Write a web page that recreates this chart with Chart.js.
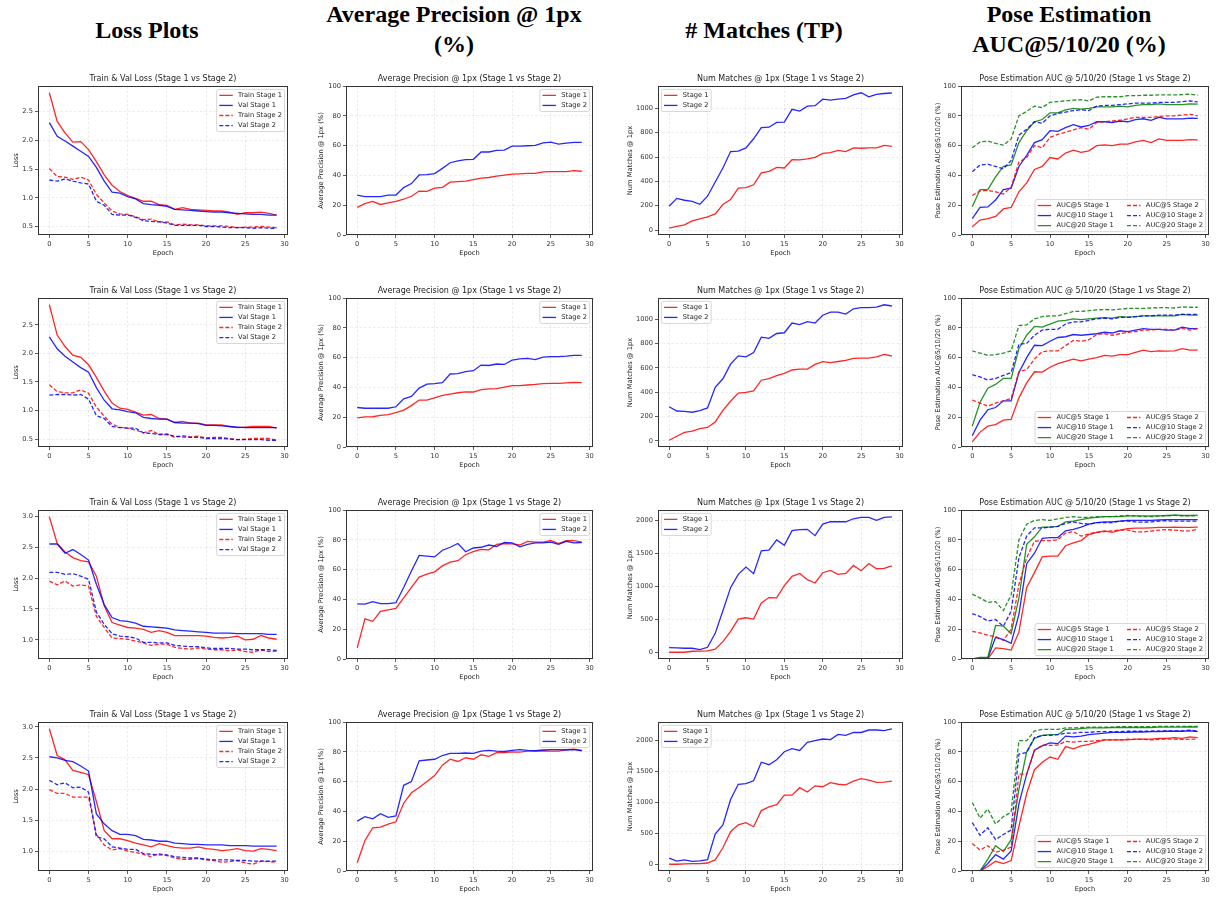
<!DOCTYPE html>
<html>
<head>
<meta charset="utf-8">
<title>Stage 1 vs Stage 2</title>
<script src="https://cdn.jsdelivr.net/npm/chart.js@4.4.0/dist/chart.umd.min.js"></script>
<style>
html, body { margin: 0; padding: 0; background: #fff; width: 1217px; height: 897px; overflow: hidden; position: relative; }
.hdr { position: absolute; font-family: 'Liberation Serif', 'Times New Roman', serif; font-weight: bold; font-size: 24px; line-height: 30px; text-align: center; color: #000; white-space: nowrap; transform: translateX(-50%); }
canvas { position: absolute; }
</style>
</head>
<body>
<div class="hdr" style="left:147px;top:15px">Loss Plots</div>
<div class="hdr" style="left:454px;top:-1px">Average Precision @ 1px<br>(%)</div>
<div class="hdr" style="left:764px;top:15px"># Matches (TP)</div>
<div class="hdr" style="left:1069px;top:-1px">Pose Estimation<br>AUC@5/10/20 (%)</div>
<script>
const epochs = [0,1,2,3,4,5,6,7,8,9,10,11,12,13,14,15,16,17,18,19,20,21,22,23,24,25,26,27,28,29];

// tick values
const xTicks = [0,5,10,15,20,25,30];
const lossTicksA = [0.5,1.0,1.5,2.0,2.5];
const lossTicksB = [1.0,1.5,2.0,2.5,3.0];
const pctTicks = [0,20,40,60,80,100];
const matchTicksA = [0,200,400,600,800,1000];
const matchTicksB = [0,500,1000,1500,2000];

// ---- row 1 ----
const r1_trainS1 = [2.83,2.33,2.13,1.97,1.98,1.84,1.63,1.40,1.22,1.11,1.04,0.99,0.94,0.94,0.88,0.87,0.80,0.83,0.80,0.79,0.78,0.77,0.77,0.75,0.71,0.74,0.74,0.75,0.73,0.70];
const r1_valS1   = [2.31,2.07,1.99,1.90,1.81,1.72,1.53,1.29,1.10,1.08,1.02,0.98,0.90,0.88,0.87,0.85,0.80,0.79,0.78,0.77,0.76,0.75,0.75,0.74,0.73,0.72,0.71,0.71,0.70,0.70];
const r1_trainS2 = [1.51,1.37,1.36,1.32,1.36,1.31,1.06,0.91,0.77,0.72,0.71,0.67,0.62,0.63,0.58,0.58,0.53,0.54,0.53,0.53,0.51,0.51,0.51,0.50,0.48,0.49,0.49,0.50,0.49,0.48];
const r1_valS2   = [1.31,1.29,1.33,1.29,1.26,1.24,0.94,0.87,0.71,0.70,0.70,0.66,0.60,0.59,0.58,0.56,0.52,0.52,0.52,0.52,0.50,0.50,0.49,0.48,0.48,0.48,0.47,0.48,0.47,0.47];
const r1_apS1 = [18.5,21,22.5,20.5,21.5,22.5,24,26,29.5,29.3,31.5,32,35.5,35.8,36.2,37.2,38.2,38.6,39.5,40.2,40.8,41,41.3,41.3,42.3,42.5,42.5,42.5,43.2,42.8];
const r1_apS2 = [26.8,25.8,25.8,25.8,26.7,26.8,31.8,34.5,40.3,40.5,41.2,44.7,48.5,49.8,50.6,50.8,55.7,55.7,56.8,57,59.6,59.7,59.9,60.1,61.8,62.3,61,61.7,62.2,62.2];
const r1_mS1 = [15,30,42,75,92,108,133,210,250,345,348,372,470,483,515,510,578,576,585,598,630,637,655,645,675,672,675,675,695,687];
const r1_mS2 = [195,260,245,236,212,278,395,510,645,648,675,750,842,845,885,887,992,978,1018,1022,1075,1068,1075,1082,1110,1128,1095,1115,1122,1126];
const r1_auc5S1  = [5.5,10,11,12.5,17.5,18.5,29,35,44,46,52,51,55,57,55.5,56.5,60,60.5,60,61,61,62.5,63.5,62,64.5,63.5,63.5,63.5,64,63.8];
const r1_auc10S1 = [11,18.5,18.8,23.5,30.5,31.5,46,53.5,62,64,70,69.5,72,74,72.5,73.5,76,76,75.5,76.5,76,77.5,78,77,79,78,78,78,78.5,78.3];
const r1_auc20S1 = [19,30.5,30.5,39,46,47,62,70,76,77.5,82,82,84,85,84.5,85,86,86,86,86.5,86,87,87.5,87.5,88,87.5,87.5,87.5,88,87.8];
const r1_auc5S2  = [26.5,29.5,30,29,27.5,32,49,52,60,58.5,65.5,67.5,69,70.5,72,71,75.5,76,76.5,77,78,79,79,79,79.5,80,80,80.5,81,80];
const r1_auc10S2 = [42.5,47,47.5,46,44.5,50,67,71,76,75,80,81.5,82.5,83.5,84,83.5,86.5,87,87,87.5,88,88.5,88.5,88.5,89,89,89,89.5,90,89.3];
const r1_auc20S2 = [58.5,62.5,63,61.5,60.3,64.5,80,83,86.5,85.5,89,89.5,90,90.5,90.8,90,92.5,92.8,92.8,92.8,93.5,93.5,93.8,93.8,94,94,94,94.2,94.5,93.8];

// ---- row 2 ----
const r2_trainS1 = [2.85,2.32,2.12,1.97,1.93,1.80,1.58,1.34,1.13,1.04,1.02,0.97,0.92,0.93,0.86,0.85,0.79,0.81,0.78,0.78,0.75,0.75,0.75,0.72,0.70,0.71,0.72,0.72,0.72,0.69];
const r2_valS1   = [2.29,2.08,1.95,1.85,1.75,1.67,1.40,1.18,1.03,1.01,0.98,0.96,0.88,0.86,0.85,0.85,0.79,0.78,0.78,0.77,0.74,0.74,0.73,0.72,0.71,0.70,0.70,0.70,0.70,0.70];
const r2_trainS2 = [1.45,1.33,1.31,1.31,1.36,1.30,1.06,0.90,0.76,0.71,0.69,0.66,0.61,0.65,0.58,0.59,0.53,0.56,0.54,0.55,0.52,0.53,0.53,0.51,0.49,0.50,0.51,0.51,0.51,0.48];
const r2_valS2   = [1.27,1.28,1.28,1.27,1.28,1.20,0.91,0.86,0.72,0.70,0.69,0.69,0.61,0.60,0.58,0.58,0.55,0.54,0.53,0.53,0.51,0.51,0.51,0.50,0.49,0.49,0.49,0.49,0.48,0.48];
const r2_apS1 = [19.5,20.2,20.3,21.2,21.7,23,24.8,27.8,31.5,31.5,33,34.6,35.5,36.4,37,36.9,38.5,39,39.2,40.2,41.2,41.2,41.6,42,42.6,42.7,42.7,43,43.3,43.2];
const r2_apS2 = [26.5,26,26,26,26,27,32.3,34,39.5,42.2,42.5,43.2,49,49.3,50.6,51.2,55,54.7,55.7,55.4,58.3,59.2,59.5,58.6,60.3,60.7,60.7,61,61.5,61.5];
const r2_mS1 = [5,38,70,80,100,110,155,250,325,392,398,410,498,512,535,555,582,590,590,628,650,642,652,662,678,680,680,690,710,697];
const r2_mS2 = [280,245,242,235,248,270,440,510,630,698,690,725,852,842,882,888,968,955,980,968,1032,1058,1058,1042,1085,1095,1095,1098,1118,1108];
const r2_auc5S1  = [3.5,10,14,15,18,18.5,33,43,50.5,50.3,53.5,56,57.5,59,57.8,59,60,61.5,61,62,62,63.5,65,64,64.5,64.3,64.5,66,65,65];
const r2_auc10S1 = [7.5,18,25,26.5,31,31,50,60,68.3,68,71,73.5,74,75.5,75,75.5,76,77,76.5,78,77.5,78.5,79.5,79,79,78.5,78.5,80.5,79.5,79.5];
const r2_auc20S1 = [14,30,39.5,42,46,46,66,75,81,80.5,82.5,84.5,85,86,85.5,86,86.5,86.8,86.5,87.5,87.2,87.5,88,88,88,88,88,89,88.5,88.5];
const r2_auc5S2  = [31.5,29.5,27.5,29.5,31,32.5,50.5,52,59,64,64.5,64.5,68,71.5,71,72,75.5,76,75,76,77,77.5,78.5,78.5,79,79,78.5,79.5,78.5,79.5];
const r2_auc10S2 = [48.5,47,45,46,48,50,69,69.5,75,78.5,79,79,82.5,84,84,85,86,86.5,86,87,87,87.5,88,88,88.5,88.5,88.5,89,89,89];
const r2_auc20S2 = [64.5,63,61.5,62,63,64.5,81.5,82,86,87.5,88,88,89.5,91,91,91.5,92,92.3,92,92.5,93,93,93,93.3,93.5,93.5,93.3,94,93.8,93.8];

// ---- row 3 ----
const r3_trainS1 = [2.99,2.56,2.42,2.33,2.28,2.26,2.03,1.55,1.28,1.24,1.20,1.19,1.17,1.12,1.15,1.12,1.07,1.07,1.07,1.07,1.06,1.04,1.03,1.04,1.06,1.00,1.01,1.07,1.03,1.01];
const r3_valS1   = [2.55,2.55,2.40,2.46,2.38,2.29,1.90,1.57,1.36,1.31,1.30,1.27,1.22,1.21,1.20,1.19,1.16,1.15,1.14,1.13,1.12,1.11,1.11,1.11,1.10,1.10,1.10,1.10,1.09,1.09];
const r3_trainS2 = [1.95,1.89,1.95,1.87,1.89,1.87,1.38,1.20,1.03,1.02,1.01,0.98,0.95,0.91,0.93,0.93,0.88,0.86,0.85,0.87,0.85,0.84,0.84,0.82,0.84,0.81,0.80,0.84,0.81,0.82];
const r3_valS2   = [2.09,2.09,2.06,2.07,2.03,1.98,1.45,1.25,1.10,1.06,1.05,1.03,0.96,0.96,0.95,0.95,0.91,0.90,0.89,0.89,0.87,0.86,0.86,0.86,0.85,0.85,0.84,0.84,0.84,0.83];
const r3_apS1 = [7.5,27,25.3,32,33,34,41,48,55,57,58.5,62.5,65,66,70,72,73.5,73.3,77,77.5,77.2,76.5,79,78.5,78.5,79.5,77.5,79.5,79.5,78.5];
const r3_apS2 = [37,36.8,38.5,37.2,37.2,37.8,48,59,69.5,69,68.5,73,75,77.5,72,74.5,75,76.5,75.5,78.3,78,75.3,77,78,78,78.5,77,79,78,78.2];
const r3_mS1 = [5,5,5,20,22,25,50,165,320,505,525,505,750,830,825,1010,1150,1195,1100,1050,1205,1240,1180,1195,1315,1235,1345,1265,1270,1310];
const r3_mS2 = [75,70,65,65,45,80,290,630,980,1180,1290,1190,1535,1545,1700,1620,1840,1855,1860,1765,1940,1975,1975,1975,2020,2040,2040,1995,2040,2050];
const r3_auc5S1  = [0,0,0,7.5,7,6,18,48,58,68.5,69,69,76,78,79.5,83.5,85,86,85,86.5,87.5,87.8,87.8,88,88.3,88.3,88.5,88.3,88.3,88.5];
const r3_auc10S1 = [0,0.5,0.5,14.5,13,10.5,30,64,71,81,81.5,81.5,86,87,88.5,90.5,91.5,92,92,92.5,93,93,93,93,93.3,93.5,93.5,93.5,93.5,93.5];
const r3_auc20S1 = [0,1,1,22.5,22,17,41,77,82,88.5,88.5,89,92,92.5,93.5,94.5,95,95.5,95.5,95.5,96,96,96,96,96,96.3,96.5,96.3,96.3,96.5];
const r3_auc5S2  = [18.5,17.5,16,15,12.5,20,50,68,79,79.5,79.5,80,84.5,85.5,82.5,84,85,85.5,86,86.5,86.5,85.3,85.3,85.8,86.5,86.8,86.5,86,86,87];
const r3_auc10S2 = [30.5,28.5,25.5,26.5,22,32,68,82.5,88,88,88.5,89,91,92,91,90.5,91.5,91.5,91.5,92.5,92.5,92,91.8,92,92.5,92.8,92.5,92.5,92.5,92.5];
const r3_auc20S2 = [43.5,41,38,38.5,32.5,43,80,90.5,93,93.5,93,94,95,95.5,95,95,95.5,95.5,95.5,96,96.3,96,95.5,95.5,96,96,96.5,96,96,96];

// ---- row 4 ----
const r4_trainS1 = [2.97,2.54,2.47,2.30,2.27,2.23,1.80,1.33,1.20,1.20,1.17,1.13,1.10,1.07,1.12,1.09,1.06,1.05,1.05,1.07,1.04,1.03,1.01,1.02,1.04,1.01,1.00,1.04,1.03,1.01];
const r4_valS1   = [2.52,2.50,2.46,2.44,2.37,2.29,1.60,1.44,1.33,1.27,1.27,1.25,1.19,1.18,1.16,1.16,1.13,1.12,1.11,1.11,1.10,1.10,1.10,1.09,1.09,1.09,1.08,1.08,1.08,1.08];
const r4_trainS2 = [1.99,1.93,1.93,1.87,1.87,1.87,1.27,1.10,1.02,1.04,1.00,0.98,0.95,0.91,0.96,0.93,0.89,0.87,0.87,0.88,0.86,0.85,0.82,0.83,0.85,0.81,0.79,0.84,0.83,0.82];
const r4_valS2   = [2.14,2.07,2.10,2.02,2.03,1.95,1.23,1.20,1.07,1.05,1.03,1.03,0.96,0.95,0.94,0.94,0.91,0.90,0.89,0.89,0.87,0.86,0.86,0.86,0.85,0.85,0.84,0.84,0.84,0.84];
const r4_apS1 = [5.5,20.5,29,29.5,31.5,33,45.5,52.5,56,60,64,71,75,73.5,76,75,78,77,79.5,79.5,80,79.8,80.5,80.5,80.7,80.5,80.5,81.5,81.8,81];
const r4_apS2 = [33.5,36.5,35,38.5,36,37,57.5,60,74,74.5,75,77.5,79,79,79.2,79,80.5,81,80.5,80.2,81,81.5,81,80.7,81.2,81.4,81.4,81.2,81.5,80.7];
const r4_mS1 = [5,5,10,15,15,25,75,270,530,640,675,610,870,930,965,1120,1120,1240,1170,1270,1255,1320,1295,1285,1345,1385,1360,1325,1330,1345];
const r4_mS2 = [105,55,75,50,60,80,490,640,1050,1295,1305,1350,1650,1610,1690,1820,1870,1840,1970,2000,2025,2015,2100,2085,2130,2130,2170,2170,2160,2190];
const r4_auc5S1  = [0,0,3,6.5,5,7,30,52,68,73,76.5,75,83.5,82,84,85,86.5,88,88,88,88,88.5,88.5,88.5,89,89,89.5,89,90,89.5];
const r4_auc10S1 = [0,0,5,11,8,13.5,45,65,81,84,86,85.5,90.5,90,90.5,91.5,92,92.5,93,93,93,93.3,93.3,93.5,93.5,93.8,93.8,93.8,94,93.5];
const r4_auc20S1 = [0,0,8,17,13,21,55,80,89,91,91.5,91.5,95,95,95.5,96,96,96,96.3,96.3,96.3,96.3,96.3,96.3,96.5,96.5,96.5,96.5,96.8,96.5];
const r4_auc5S2  = [18.5,14,17,12.5,14,16,65,65,81,84.5,84.3,84.5,87,86.5,87,87,87.5,88,88,88,88.5,88.3,88.3,88,88.3,88.5,88.5,88.3,88.5,88.5];
const r4_auc10S2 = [32.5,24,29,21,24.5,27.5,78.5,79.5,89.5,91,91,91.5,92.5,92.5,93,93,93.5,93.5,93.5,93.5,93.8,93.8,93.8,94,94,94,94,94,94.5,94];
const r4_auc20S2 = [46,35.5,41.5,31.5,36.5,39.5,87.5,87.5,94,95,95,95,96,96,96.3,96.5,96.5,96.5,96.5,96.8,96.8,96.8,96.8,96.8,97,97,97,97,97,97];

// layout of the 4x4 grid (pixels)
const colLeft = [38, 346, 658, 961];
const colWidth = [250, 247, 245, 248];
const rowTop = [86, 298, 510, 722];
const plotH = 149;
const yAxisW = [27, 30, 33, 28];
const titleH = 12;
const xAxisH = 23;

const RED = 'rgba(255,0,0,0.85)';
const BLUE = 'rgba(0,0,255,0.85)';
const GREEN = 'rgba(0,128,0,0.85)';
const DASH = [4, 2];
const FS = 6.7;

Chart.defaults.font.family = '"DejaVu Sans", sans-serif';
Chart.defaults.color = '#222';

// frame (spines) and a matplotlib-like legend inside the plot
const framePlugin = {
  id: 'frameLegend',
  afterDatasetsDraw(chart, args, opts) {
    const ctx = chart.ctx, a = chart.chartArea;
    ctx.save();
    ctx.strokeStyle = '#333';
    ctx.lineWidth = 1;
    ctx.setLineDash([]);
    ctx.strokeRect(Math.round(a.left) + 0.5, Math.round(a.top) + 0.5,
                   Math.round(a.right - a.left) - 1, Math.round(a.bottom - a.top) - 1);

    const sets = chart.data.datasets;
    const ncol = opts.ncol || 1;
    const nrow = Math.ceil(sets.length / ncol);
    const pad = 0.4 * FS, handle = 2 * FS, gap = 0.8 * FS, colGap = 2 * FS, pitch = 1.5 * FS, margin = 0.5 * FS;
    ctx.font = FS + 'px "DejaVu Sans"';
    const colW = [];
    for (let c = 0; c < ncol; c++) {
      let w = 0;
      for (let r = 0; r < nrow; r++) {
        const ds = sets[c * nrow + r];
        if (ds) w = Math.max(w, ctx.measureText(ds.label).width);
      }
      colW.push(handle + gap + w);
    }
    const boxW = 2 * pad + colW.reduce((s, v) => s + v, 0) + (ncol - 1) * colGap;
    const boxH = 2 * pad + nrow * pitch - 0.5 * FS;
    let x0, y0;
    if (opts.loc === 'upper left') { x0 = a.left + margin; y0 = a.top + margin; }
    else if (opts.loc === 'lower right') { x0 = a.right - margin - boxW; y0 = a.bottom - margin - boxH; }
    else { x0 = a.right - margin - boxW; y0 = a.top + margin; }

    ctx.fillStyle = 'rgba(255,255,255,0.8)';
    ctx.strokeStyle = '#cccccc';
    ctx.lineWidth = 0.8;
    ctx.beginPath();
    ctx.roundRect(x0, y0, boxW, boxH, 2);
    ctx.fill();
    ctx.stroke();

    let cx = x0 + pad;
    for (let c = 0; c < ncol; c++) {
      for (let r = 0; r < nrow; r++) {
        const ds = sets[c * nrow + r];
        if (!ds) continue;
        const y = y0 + pad + r * pitch + 0.5 * FS;
        ctx.strokeStyle = ds.borderColor;
        ctx.lineWidth = ds.borderWidth;
        ctx.setLineDash(ds.borderDash || []);
        ctx.beginPath();
        ctx.moveTo(cx, y);
        ctx.lineTo(cx + handle, y);
        ctx.stroke();
        ctx.setLineDash([]);
        ctx.fillStyle = '#222';
        ctx.textBaseline = 'middle';
        ctx.textAlign = 'left';
        ctx.fillText(ds.label, cx + handle + gap, y);
      }
      cx += colW[c] + colGap;
    }
    ctx.restore();
  }
};

function line(label, values, color, dashed) {
  return {
    label: label,
    data: values.map((v, i) => ({ x: epochs[i], y: v })),
    borderColor: color,
    backgroundColor: color,
    borderWidth: 1.3,
    borderDash: dashed ? DASH : [],
    pointRadius: 0,
    tension: 0,
    fill: false
  };
}

function autoRange(series) {
  const all = [].concat(...series);
  const lo = Math.min(...all), hi = Math.max(...all);
  const m = (hi - lo) * 0.05;
  return [lo - m, hi + m];
}

function makeChart(col, row, title, yTitle, datasets, yOpts, legendOpts) {
  const W = yAxisW[col];
  const cw = W + colWidth[col] + W;
  const ch = titleH + plotH + xAxisH;
  const cv = document.createElement('canvas');
  cv.width = cw;
  cv.height = ch;
  cv.style.left = (colLeft[col] - W) + 'px';
  cv.style.top = (rowTop[row] - titleH) + 'px';
  cv.style.width = cw + 'px';
  cv.style.height = ch + 'px';
  document.body.appendChild(cv);

  // later series drawn on top, as in the original
  datasets.forEach((d, i) => { d.order = datasets.length - i; });

  const grid = {
    color: 'rgba(0,0,0,0.10)',
    lineWidth: 0.8,
    tickColor: '#333',
    tickLength: 3,
    tickWidth: 0.8,
    tickBorderDash: []
  };

  new Chart(cv, {
    type: 'line',
    data: { datasets: datasets },
    plugins: [framePlugin],
    options: {
      responsive: false,
      animation: false,
      devicePixelRatio: 1,
      layout: { padding: 0 },
      plugins: {
        legend: { display: false },
        tooltip: { enabled: false },
        title: {
          display: true,
          text: title,
          color: '#222',
          font: { size: 8, weight: 'normal' },
          padding: { top: 0, bottom: 2.4 }
        },
        frameLegend: legendOpts
      },
      scales: {
        x: {
          type: 'linear',
          min: -1.45,
          max: 30.45,
          grid: grid,
          border: { display: false, dash: [2.5, 2] },
          ticks: { padding: 2, color: '#333', font: { size: FS }, maxRotation: 0 },
          afterBuildTicks: s => { s.ticks = xTicks.map(v => ({ value: v })); },
          title: { display: true, text: 'Epoch', color: '#222', font: { size: FS }, padding: { top: 0, bottom: 1 } },
          afterFit: s => { s.height = xAxisH; }
        },
        y: {
          type: 'linear',
          position: 'left',
          min: yOpts.min,
          max: yOpts.max,
          grid: grid,
          border: { display: false, dash: [2.5, 2] },
          ticks: {
            padding: 2,
            color: '#333',
            font: { size: FS },
            callback: v => yOpts.decimals ? v.toFixed(yOpts.decimals) : String(v)
          },
          afterBuildTicks: s => { s.ticks = yOpts.ticks.map(v => ({ value: v })); },
          title: { display: true, text: yTitle, color: '#222', font: { size: FS }, padding: { top: 1, bottom: 1 } },
          afterFit: s => { s.width = W; }
        },
        // empty right-hand axis so the plot sits centred under its title
        yR: {
          type: 'linear',
          position: 'right',
          display: true,
          grid: { display: false, drawTicks: false },
          border: { display: false },
          ticks: { display: false },
          afterFit: s => { s.width = W; }
        }
      }
    }
  });
}

const rows = [
  { loss: [r1_trainS1, r1_valS1, r1_trainS2, r1_valS2], lossTicks: lossTicksA, ap: [r1_apS1, r1_apS2], m: [r1_mS1, r1_mS2], mTicks: matchTicksA,
    auc: [r1_auc5S1, r1_auc10S1, r1_auc20S1, r1_auc5S2, r1_auc10S2, r1_auc20S2] },
  { loss: [r2_trainS1, r2_valS1, r2_trainS2, r2_valS2], lossTicks: lossTicksA, ap: [r2_apS1, r2_apS2], m: [r2_mS1, r2_mS2], mTicks: matchTicksA,
    auc: [r2_auc5S1, r2_auc10S1, r2_auc20S1, r2_auc5S2, r2_auc10S2, r2_auc20S2] },
  { loss: [r3_trainS1, r3_valS1, r3_trainS2, r3_valS2], lossTicks: lossTicksB, ap: [r3_apS1, r3_apS2], m: [r3_mS1, r3_mS2], mTicks: matchTicksB,
    auc: [r3_auc5S1, r3_auc10S1, r3_auc20S1, r3_auc5S2, r3_auc10S2, r3_auc20S2] },
  { loss: [r4_trainS1, r4_valS1, r4_trainS2, r4_valS2], lossTicks: lossTicksB, ap: [r4_apS1, r4_apS2], m: [r4_mS1, r4_mS2], mTicks: matchTicksB,
    auc: [r4_auc5S1, r4_auc10S1, r4_auc20S1, r4_auc5S2, r4_auc10S2, r4_auc20S2] }
];

rows.forEach((r, i) => {
  const lr = autoRange(r.loss);
  makeChart(0, i, 'Train & Val Loss (Stage 1 vs Stage 2)', 'Loss', [
    line('Train Stage 1', r.loss[0], RED, false),
    line('Val Stage 1', r.loss[1], BLUE, false),
    line('Train Stage 2', r.loss[2], RED, true),
    line('Val Stage 2', r.loss[3], BLUE, true)
  ], { min: lr[0], max: lr[1], ticks: r.lossTicks, decimals: 1 }, { loc: 'upper right' });

  makeChart(1, i, 'Average Precision @ 1px (Stage 1 vs Stage 2)', 'Average Precision @ 1px (%)', [
    line('Stage 1', r.ap[0], RED, false),
    line('Stage 2', r.ap[1], BLUE, false)
  ], { min: 0, max: 100, ticks: pctTicks }, { loc: 'upper right' });

  const mr = autoRange(r.m);
  makeChart(2, i, 'Num Matches @ 1px (Stage 1 vs Stage 2)', 'Num Matches @ 1px', [
    line('Stage 1', r.m[0], RED, false),
    line('Stage 2', r.m[1], BLUE, false)
  ], { min: mr[0], max: mr[1], ticks: r.mTicks }, { loc: 'upper left' });

  makeChart(3, i, 'Pose Estimation AUC @ 5/10/20 (Stage 1 vs Stage 2)', 'Pose Estimation AUC@5/10/20 (%)', [
    line('AUC@5 Stage 1', r.auc[0], RED, false),
    line('AUC@10 Stage 1', r.auc[1], BLUE, false),
    line('AUC@20 Stage 1', r.auc[2], GREEN, false),
    line('AUC@5 Stage 2', r.auc[3], RED, true),
    line('AUC@10 Stage 2', r.auc[4], BLUE, true),
    line('AUC@20 Stage 2', r.auc[5], GREEN, true)
  ], { min: 0, max: 100, ticks: pctTicks }, { loc: 'lower right', ncol: 2 });
});
</script>
</body>
</html>
